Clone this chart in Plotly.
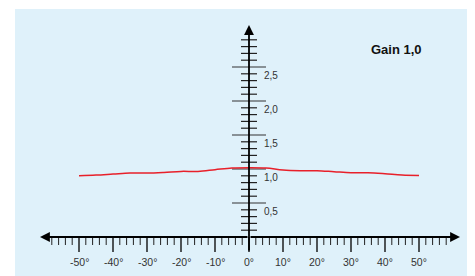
import plotly.graph_objects as go

# ---- data ----
angles = [-50, -45, -40, -35, -30, -25, -20, -15, -10, -5, 0, 5, 10, 15, 20, 25, 30, 35, 40, 45, 50]
gain = [0.90, 0.91, 0.925, 0.94, 0.94, 0.95, 0.965, 0.965, 0.99, 1.015, 1.02,
        1.015, 0.985, 0.975, 0.975, 0.96, 0.945, 0.945, 0.93, 0.91, 0.905]
x_major = [-50, -40, -30, -20, -10, 0, 10, 20, 30, 40, 50]
x_labels = ["-50°", "-40°", "-30°", "-20°", "-10°", "0°", "10°", "20°", "30°", "40°", "50°"]
x_minor = [v for v in range(-58, 59, 2) if v % 10 != 0 or abs(v) > 50]
y_major = [0.5, 1.0, 1.5, 2.0, 2.5]
y_labels = ["0,5", "1,0", "1,5", "2,0", "2,5"]
y_minor = [round(0.1 * i, 1) for i in range(1, 30) if i % 5 != 0]
title_text = "Gain 1,0"

# page body has an 8px margin; the figure is sized so the plot area
# lands on the reference's light-blue panel (x 15..475, y 9..276)
BODY = 8
PXX = 3.4    # px per degree
PXY = 68.0   # px per gain unit
X_RANGE = [(15 - 249) / PXX, (475 - 249) / PXX]
Y_RANGE = [(237 - 276) / PXY, (237 - 9) / PXY]

fig = go.Figure()

def segs_x(vals, length):
    xs, ys = [], []
    for v in vals:
        xs += [v, v, None]
        ys += [0, -length, None]
    return xs, ys

def segs_y(vals, half):
    xs, ys = [], []
    for v in vals:
        xs += [-half, half, None]
        ys += [v, v, None]
    return xs, ys

tick_color = "#222"
xs, ys = segs_x(x_minor, 8 / PXY)
fig.add_trace(go.Scatter(x=xs, y=ys, mode="lines", line=dict(color=tick_color, width=1), hoverinfo="skip"))
xs, ys = segs_x(x_major, 15 / PXY)
fig.add_trace(go.Scatter(x=xs, y=ys, mode="lines", line=dict(color="#111", width=1.4), hoverinfo="skip"))
xs, ys = segs_y(y_minor, 8 / PXX)
fig.add_trace(go.Scatter(x=xs, y=ys, mode="lines", line=dict(color=tick_color, width=1.2), hoverinfo="skip"))
xs, ys = segs_y(y_major, 17 / PXX)
fig.add_trace(go.Scatter(x=xs, y=ys, mode="lines", line=dict(color="#333", width=1.2), hoverinfo="skip"))

# gain curve
fig.add_trace(go.Scatter(x=angles, y=gain, mode="lines",
                         line=dict(color="#e8202a", width=1.5, shape="spline", smoothing=1.0),
                         hoverinfo="skip"))

# axes with arrows
arrow = dict(showarrow=True, text="", xref="x", yref="y", axref="x", ayref="y",
             arrowhead=2, arrowsize=1.1, arrowwidth=1.8, arrowcolor="#000", standoff=0)
fig.add_annotation(x=(40 - 249) / PXX, y=0, ax=0, ay=0, **arrow)
fig.add_annotation(x=(460 - 249) / PXX, y=0, ax=0, ay=0, **arrow)
fig.add_annotation(x=0, y=(237 - 25) / PXY, ax=0, ay=-15 / PXY, **arrow)

# tick labels
lab_font = dict(family="Liberation Sans, Arial", size=10.5, color="#333")
for v, t in zip(x_major, x_labels):
    fig.add_annotation(x=v, y=0, text=t, showarrow=False, yshift=-25, font=lab_font,
                       xanchor="center", yanchor="middle")
ylab_font = dict(family="Liberation Sans, Arial", size=10, color="#333")
for v, t in zip(y_major, y_labels):
    fig.add_annotation(x=0, y=v, text=t, showarrow=False, xshift=13, yshift=-8, font=ylab_font,
                       xanchor="left", yanchor="middle")

fig.add_annotation(xref="paper", yref="paper", x=(396 - 15) / 460, y=1 - (49 - 9) / 267,
                   text="<b>" + title_text + "</b>", showarrow=False,
                   font=dict(family="Liberation Sans, Arial", size=13, color="#111"),
                   xanchor="center", yanchor="middle")

fig.update_layout(
    width=475 - BODY, height=276 - BODY,
    margin=dict(l=15 - BODY, r=0, t=9 - BODY, b=0, pad=0),
    paper_bgcolor="white", plot_bgcolor="#dff1fa",
    showlegend=False,
    xaxis=dict(range=X_RANGE, visible=False, fixedrange=True),
    yaxis=dict(range=Y_RANGE, visible=False, fixedrange=True),
)
fig.write_html("out.html")
